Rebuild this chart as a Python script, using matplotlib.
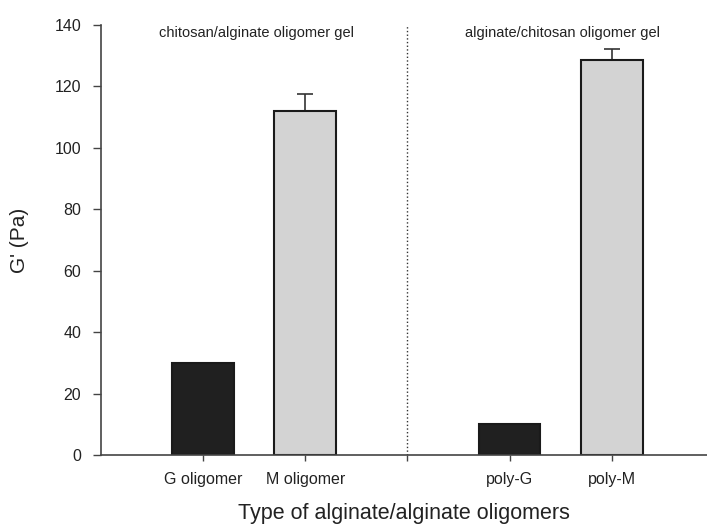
import numpy as np
import matplotlib
matplotlib.use('Agg')
import matplotlib.pyplot as plt

plt.rcParams['font.family'] = ['Liberation Sans', 'DejaVu Sans']

# G' of the two gel systems
labels = ['G oligomer', 'M oligomer', 'poly-G', 'poly-M']
positions = [1, 2, 4, 5]
gprime = [30, 112, 10, 128.5]
err = [0, 5.5, 0, 3.8]
colors = ['#202020', '#d3d3d3', '#202020', '#d3d3d3']
group_titles = ['chitosan/alginate oligomer gel', 'alginate/chitosan oligomer gel']

fig = plt.figure(figsize=(7.07, 5.29), dpi=100)
ax = fig.add_axes([0.1424, 0.14, 0.8576, 0.8127])

ax.bar(positions, gprime, width=0.6, color=colors, edgecolor='#1a1a1a',
       linewidth=1.5, zorder=2)
ax.errorbar(positions, gprime, yerr=[np.zeros(len(err)), err], fmt='none',
            ecolor='#333333', elinewidth=1.2, capsize=6, capthick=1.2, zorder=1)

# dotted divider between the two gel systems
ax.axvline(3, color='#333333', linestyle=':', linewidth=1)

ax.text(1.52, 137.5, group_titles[0], ha='center', va='center', fontsize=10.5,
        color='#222222')
ax.text(4.52, 137.5, group_titles[1], ha='center', va='center', fontsize=10.5,
        color='#222222')

ax.set_xlim(0, 5.93)
ax.set_ylim(0, 140)
ax.set_xticks([1, 2, 3, 4, 5])
ax.set_xticklabels([labels[0], labels[1], '', labels[2], labels[3]], fontsize=11.5,
                   color='#222222')
ax.set_yticks(np.arange(0, 141, 20))
ax.tick_params(axis='y', labelsize=11.5, length=6, width=1, color='#444444',
               pad=8, labelcolor='#222222')
ax.tick_params(axis='x', length=4, width=1, color='#444444', pad=8)

for s in ['top', 'right']:
    ax.spines[s].set_visible(False)
for s in ['left', 'bottom']:
    ax.spines[s].set_color('#444444')
    ax.spines[s].set_linewidth(1.2)

ax.set_ylabel("G' (Pa)", fontsize=15, labelpad=18, color='#222222')
ax.set_xlabel('Type of alginate/alginate oligomers', fontsize=15.5, labelpad=12,
              color='#222222')

fig.savefig('out.png', dpi=100)
